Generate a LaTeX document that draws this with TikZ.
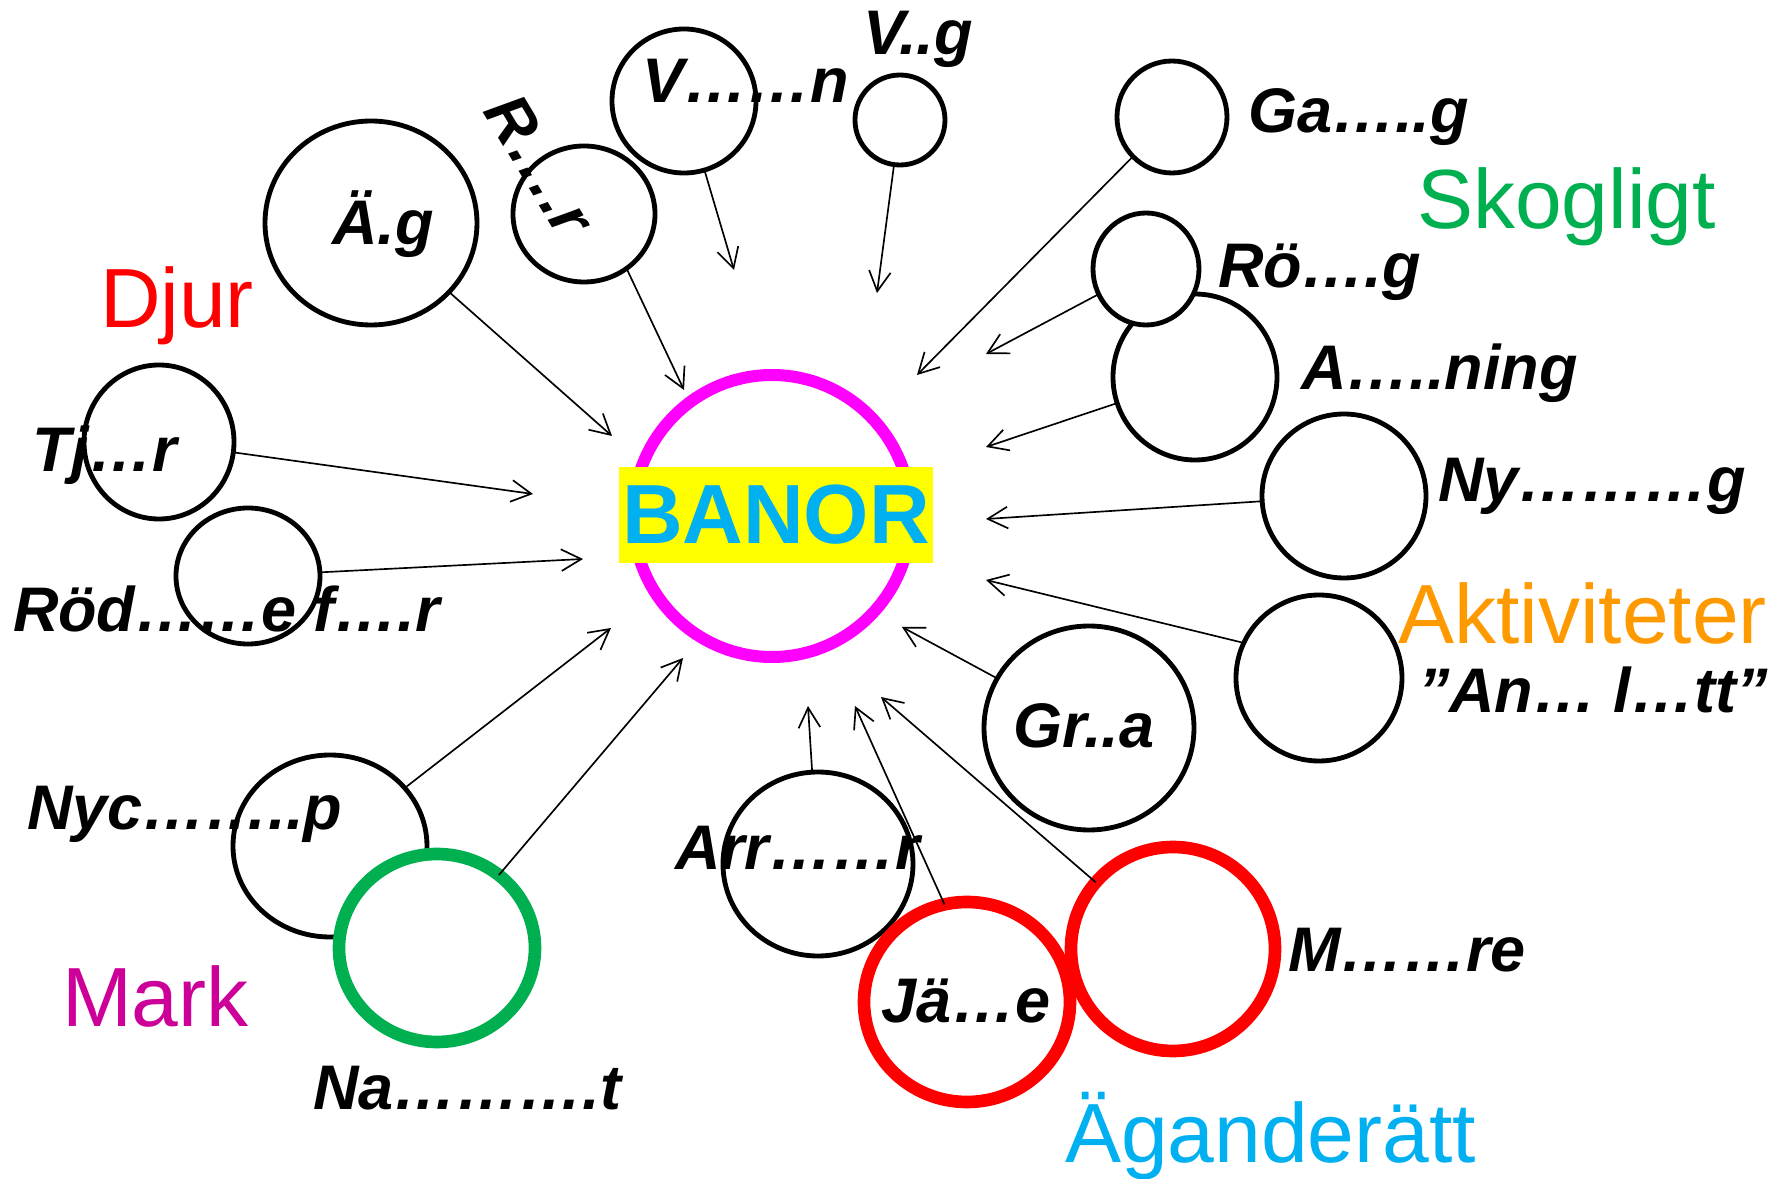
\documentclass[tikz,border=0pt]{standalone}
\usepackage{fontspec}
\setmainfont{Liberation Sans}
\usetikzlibrary{shapes.geometric,arrows.meta}
\definecolor{cRed}{HTML}{FF0000}
\definecolor{cGreen}{HTML}{00B050}
\definecolor{cMag}{HTML}{CC0099}
\definecolor{cOrange}{HTML}{FF9900}
\definecolor{cCyan}{HTML}{00B0F0}
\definecolor{cPink}{HTML}{FF00FF}
\definecolor{cYellow}{HTML}{FFFF00}
\begin{document}
\begin{tikzpicture}[x=0.3pt,y=-0.3pt,
  bub/.style 2 args={ellipse, draw=black, fill=white, line width=1.45pt, inner sep=0pt, outer sep=0pt, minimum width=#1*0.6pt, minimum height=#2*0.6pt},
  redbub/.style 2 args={bub={#1}{#2}, draw=cRed, line width=3.8pt},
  greenbub/.style 2 args={bub={#1}{#2}, draw=cGreen, line width=3.8pt},
  lab/.style={font=\fontsize{18.9}{22}\selectfont\bfseries\itshape, inner sep=0pt, outer sep=0pt, anchor=base west},
  cat/.style={font=\fontsize{25.2}{30}\selectfont, inner sep=0pt, outer sep=0pt, anchor=base west},
  arr/.style={line width=0.5pt, -{Straight Barb[length=6pt,width=6.5pt]}}
]
\useasboundingbox (0,0) rectangle (1775,1179);

% centre
\node[ellipse, draw=cPink, line width=3.6pt, inner sep=0pt, outer sep=0pt, minimum width=139*0.6pt, minimum height=141*0.6pt] (ring) at (772,516) {};
\node[fill=cYellow, text=cCyan, font=\fontsize{25.2}{30}\selectfont\bfseries, minimum width=314*0.3pt, minimum height=96*0.3pt, inner sep=0pt] (banor) at (776,515) {BANOR};

% bubbles
\node[bub={106}{102}] (ag) at (371,223) {};
\node[bub={71}{68}] (rr) at (584,214) {};
\node[bub={72}{72}] (vn) at (684,101) {};
\node[bub={45}{45}] (vg) at (900,120) {};
\node[bub={55}{56}] (ga) at (1172,117) {};
\node[bub={82}{83}] (an) at (1195,377) {};
\node[bub={53}{56}] (ro) at (1146,269) {};
\node[bub={82}{82}] (ny) at (1344,496) {};
\node[bub={83}{83}] (ak) at (1319,678) {};
\node[bub={105}{102}] (gr) at (1089,728) {};
\node[bub={95}{92}] (ar) at (818,864) {};
\node[redbub={103}{100}] (ja) at (967,1002) {};
\node[redbub={102}{102}] (mo) at (1173,949) {};
\node[bub={97}{91}] (nyc) at (330,846) {};
\node[greenbub={98}{94}] (na) at (437,948) {};
\node[bub={75}{77}] (tj) at (159,442) {};
\node[bub={72}{68}] (rod) at (248,576) {};

% arrow ends
\coordinate (eag) at (612,436);
\coordinate (err) at (684,390);
\coordinate (evn) at (734,270);
\coordinate (evg) at (877,293);
\coordinate (ega) at (917,375);
\coordinate (ero) at (986,354);
\coordinate (ean) at (986,447);
\coordinate (eny) at (986,519);
\coordinate (eak) at (986,580);
\coordinate (egr) at (902,627);
\coordinate (ear) at (808,706);
\coordinate (eja) at (855,706);
\coordinate (emo) at (881,697);
\coordinate (enyc) at (611,628);
\coordinate (ena) at (683,658);
\coordinate (etj) at (533,494);
\coordinate (erod) at (583,559);

% arrows
\draw[arr] (ag) -- (eag);
\draw[arr] (rr.-52) -- (err);
\draw[arr] (vn) -- (evn);
\draw[arr] (vg) -- (evg);
\draw[arr] (ga) -- (ega);
\draw[arr] (ro) -- (ero);
\draw[arr] (an) -- (ean);
\draw[arr] (ny) -- (eny);
\draw[arr] (ak.155) -- (eak);
\draw[arr] (gr) -- (egr);
\draw[arr] (ar) -- (ear);
\draw[arr] (ja.103) -- (eja);
\draw[arr] (mo) -- (emo);
\draw[arr] (nyc) -- (enyc);
\draw[arr] (na) -- (ena);
\draw[arr] (tj) -- (etj);
\draw[arr] (rod) -- (erod);

% labels
\node[lab, anchor=base] (lag) at (383,245) {Ä.g};
\node[lab, anchor=center, rotate=-59] (lrr) at (540,165) {R….r};
\node[lab] (lvn) at (642,103) {V……n};
\node[lab] (lvg) at (863,55) {V..g};
\node[lab] (lga) at (1248,133) {Ga…..g};
\node[lab] (lro) at (1218,288) {Rö….g};
\node[lab] (lan) at (1301,390) {A…..ning};
\node[lab] (lny) at (1438,502) {Ny………g};
\node[lab] (lak) at (1418,713) {”An… l…tt”};
\node[lab, anchor=base] (lgr) at (1084,748) {Gr..a};
\node[lab] (lar) at (675,870) {Arr……r};
\node[lab, anchor=base] (lja) at (966,1023) {Jä…e};
\node[lab] (lmo) at (1288,972) {M……re};
\node[lab] (lnyc) at (27,830) {Nyc……..p};
\node[lab] (lna) at (313,1109) {Na……….t};
\node[lab] (ltj) at (33,472) {Tj…r};
\node[lab] (lrod) at (13,632) {Röd……e f….r};

% categories
\node[cat, text=cRed] (cdjur) at (100,328) {Djur};
\node[cat, text=cGreen] (cskog) at (1417,229) {Skogligt};
\node[cat, text=cMag] (cmark) at (62,1027) {Mark};
\node[cat, text=cOrange] (cakt) at (1398,644) {Aktiviteter};
\node[cat, text=cCyan] (cagan) at (1065,1162) {Äganderätt};
\end{tikzpicture}
\end{document}
